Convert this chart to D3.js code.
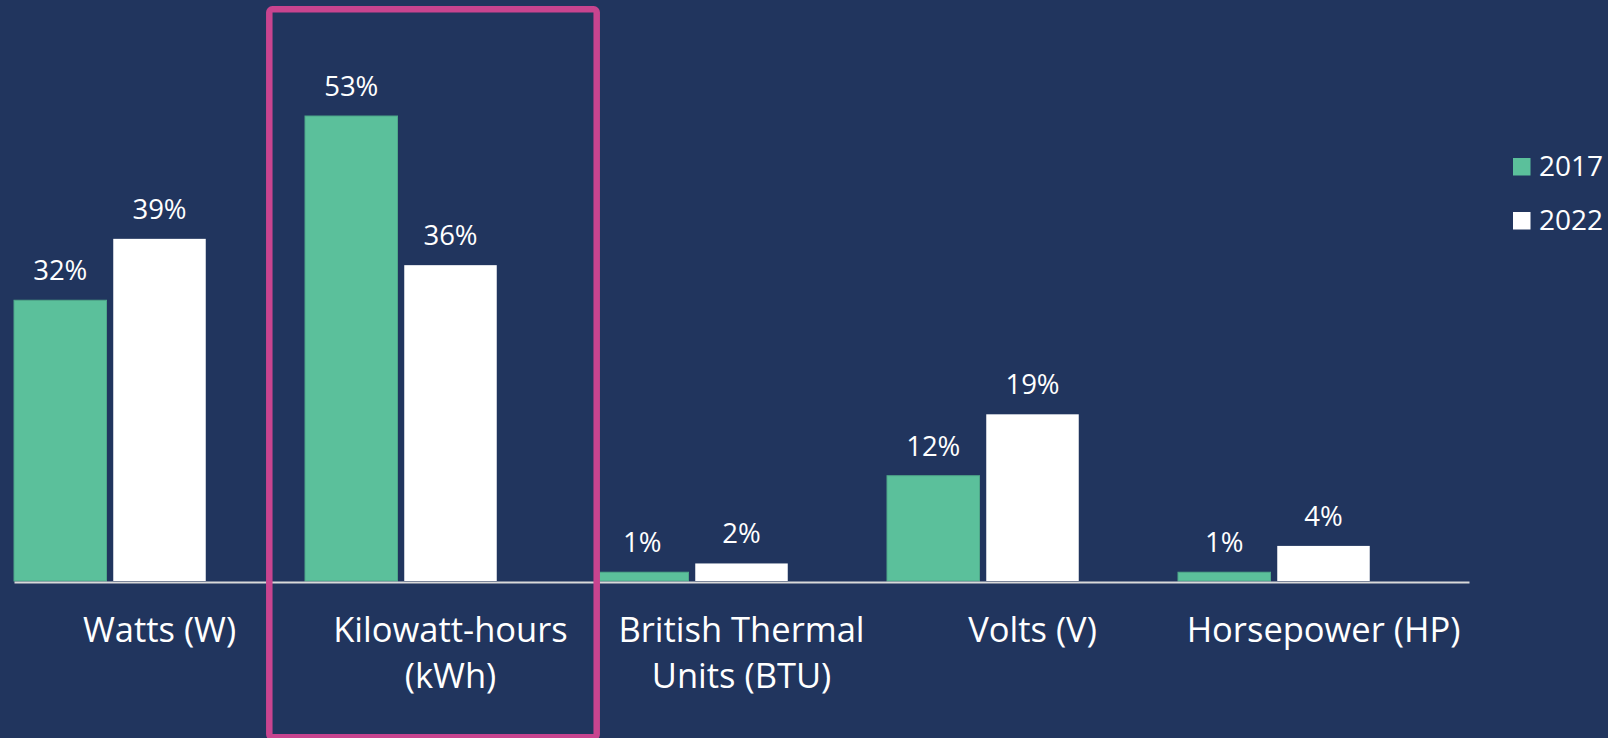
<!DOCTYPE html>
<html>
<head>
<meta charset="utf-8">
<script src="https://cdn.jsdelivr.net/npm/d3@7"></script>
<style>
	body { margin: 0; background: #21355E; overflow: hidden; }
	svg { display: block; font-family: "Open Sans", "Noto Sans", sans-serif; }
</style>
</head>
<body>
<div id="chart"></div>
<script>
const categories = ["Watts (W)", "Kilowatt-hours (kWh)", "British Thermal Units (BTU)", "Volts (V)", "Horsepower (HP)"]
const years = ["2017", "2022"]
const values_2017 = [32, 53, 1, 12, 1]
const values_2022 = [39, 36, 2, 19, 4]
const highlighted = "Kilowatt-hours (kWh)"

const colors = { "2017": "#5BC09B", "2022": "#FFFFFF" }

function init() {
	const width = 1608, height = 738
	const svg = d3.select("#chart").append("svg")
		.attr("width", width)
		.attr("height", height)

	svg.append("rect").attr("width", width).attr("height", height).style("fill", "#21355E")

	const data = categories.map((c, i) => ({ cat: c, "2017": values_2017[i], "2022": values_2022[i] }))

	const xs = d3.scaleBand().domain(categories).range([14, 1469])
	// third empty slot keeps the pair left-aligned in each band, as in the original
	const xInner = d3.scaleBand().domain(years.concat(["_"])).range([0, xs.bandwidth()]).paddingInner(0.068)
	const ys = d3.scaleLinear().domain([0, 60]).range([581, 54.6])

	const groups = svg.append("g").selectAll("g")
		.data(data).enter().append("g")
			.attr("transform", d => "translate(" + xs(d.cat) + ",0)")

	years.forEach(yr => {
		groups.append("rect")
			.attr("x", xInner(yr))
			.attr("y", d => ys(d[yr]))
			.attr("width", xInner.bandwidth())
			.attr("height", d => ys(0) - ys(d[yr]))
			.style("fill", colors[yr])
			.style("stroke", yr === "2017" ? "#4FA889" : "none")
			.style("stroke-width", 1)

		groups.append("text")
			.attr("x", xInner(yr) + xInner.bandwidth() / 2)
			.attr("y", d => ys(d[yr]) - 20)
			.attr("text-anchor", "middle")
			.style("fill", "#FFFFFF")
			.style("font-size", "27.5px")
			.text(d => d[yr] + "%")
	})

	const axis = svg.append("g")
		.attr("transform", "translate(0,582)")
		.call(d3.axisBottom(xs).tickSize(0).tickSizeOuter(0).tickFormat(""))
	axis.select(".domain").style("stroke", "#D9D9D9").style("stroke-width", 2)

	// category labels, wrapped to the band width
	const labels = svg.append("g").selectAll("text")
		.data(categories).enter().append("text")
			.attr("x", d => xs(d) + xs.bandwidth() / 2)
			.attr("y", 642)
			.attr("text-anchor", "middle")
			.style("fill", "#FFFFFF")
			.style("font-size", "34.5px")
	labels.each(function(d) { wrap(d3.select(this), d, xs.bandwidth() - 10, 46) })

	// highlight box round kWh
	svg.append("rect")
		.attr("x", xs(highlighted) - 35.7)
		.attr("y", 9.3)
		.attr("width", xs.bandwidth() + 36.4)
		.attr("height", 728)
		.attr("rx", 3)
		.style("fill", "none")
		.style("stroke", "#C8448F")
		.style("stroke-width", 6.5)

	const legend = svg.append("g").selectAll("g")
		.data(years).enter().append("g")
			.attr("transform", (d, i) => "translate(1513," + (158 + i * 54) + ")")
	legend.append("rect")
		.attr("width", 17.5)
		.attr("height", 17.5)
		.style("fill", d => colors[d])
	legend.append("text")
		.attr("x", 26)
		.attr("y", 18)
		.style("fill", "#FFFFFF")
		.style("font-size", "28px")
		.text(d => d)
}

function wrap(text, label, maxWidth, lineHeight) {
	const words = label.split(" ")
	let line = []
	let tspan = text.append("tspan").attr("x", text.attr("x")).attr("dy", 0)
	words.forEach(w => {
		line.push(w)
		tspan.text(line.join(" "))
		if (tspan.node().getComputedTextLength() > maxWidth && line.length > 1) {
			line.pop()
			tspan.text(line.join(" "))
			line = [w]
			tspan = text.append("tspan").attr("x", text.attr("x")).attr("dy", lineHeight).text(w)
		}
	})
}

init()
</script>
</body>
</html>
